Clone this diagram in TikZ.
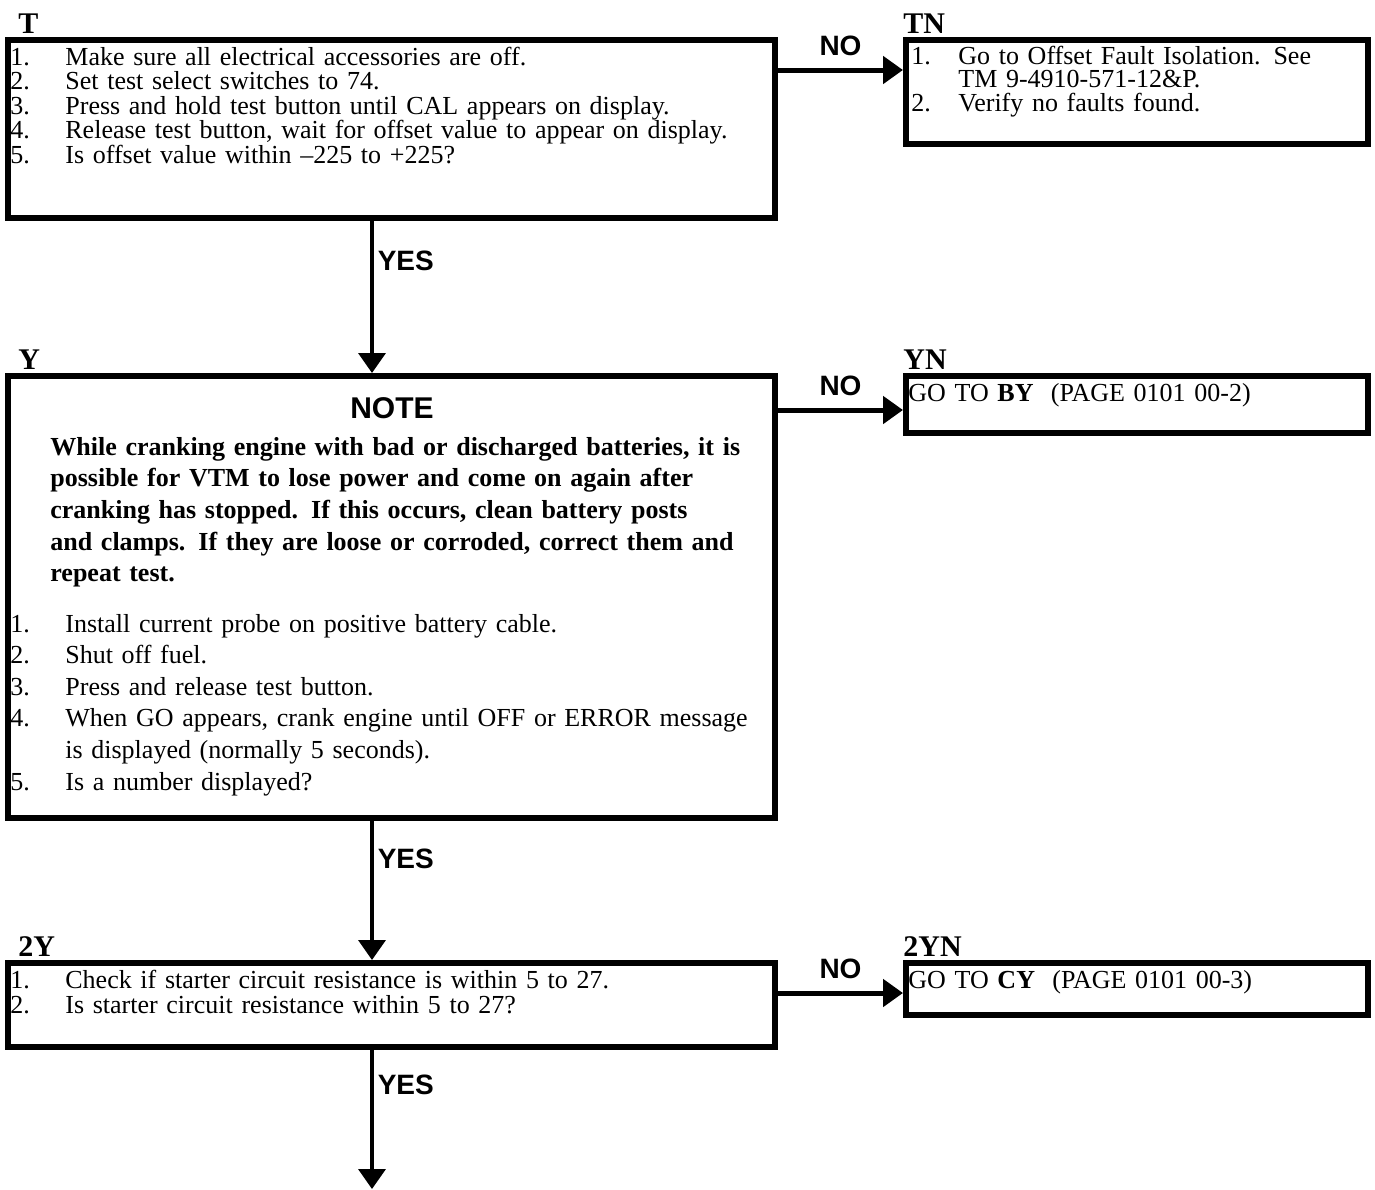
\documentclass[tikz,border=0pt]{standalone}
\usepackage{fontspec}
\setmainfont{Liberation Serif}
\setsansfont{Liberation Sans}
\usetikzlibrary{positioning,arrows.meta}

% numbered step with hanging indent
\newcommand{\stepline}[3][27.5pt]{\rightskip=0pt plus 1fil\parfillskip=0pt plus 1fil\relax
  \hangindent=#1\hangafter=1\noindent\makebox[#1][l]{#2}#3\par}

\tikzset{
  stepbox/.style={draw, line width=3pt, anchor=north west, inner sep=0pt},
  steptext/.style={anchor=base west, inner sep=0pt, text width=#1, align=left,
    font=\fontsize{13}{12.25}\selectfont},
  steptext/.default=380pt,
  boxtag/.style={anchor=base west, inner sep=0pt, font=\bfseries\fontsize{15}{15}\selectfont},
  answer/.style={inner sep=0pt, font=\sffamily\bfseries\fontsize{14}{14}\selectfont},
  noarrow/.style={line width=2.5pt, -{Triangle[length=10pt,width=13.5pt]}},
  yesarrow/.style={line width=1.8pt, -{Triangle[length=10pt,width=13.5pt]}},
}

\begin{document}
\begin{tikzpicture}[x=0.5pt, y=-0.5pt]
  \useasboundingbox[fill=white] (0,0) rectangle (1375,1189);

  % boxes
  \node[stepbox, minimum width=383.5pt, minimum height=89pt] (T) at (5,37) {};
  \node[stepbox, minimum width=231pt, minimum height=52pt] (TN) at (903,37) {};
  \node[stepbox, minimum width=383.5pt, minimum height=221pt] (Y) at (5,373) {};
  \node[stepbox, minimum width=231pt, minimum height=28.5pt] (YN) at (903,373) {};
  \node[stepbox, minimum width=383.5pt, minimum height=42pt] (2Y) at (5,960) {};
  \node[stepbox, minimum width=231pt, minimum height=26pt] (2YN) at (903,960) {};

  % box tags
  \node[boxtag] (tagT) at (18,33) {T};
  \node[boxtag] (tagTN) at (903,33) {TN};
  \node[boxtag] (tagY) at (18,369) {Y};
  \node[boxtag] (tagYN) at (903,369) {YN};
  \node[boxtag] (tag2Y) at (18,956) {2Y};
  \node[boxtag] (tag2YN) at (903,956) {2YN};

  % T
  \node[steptext] (Ttext) at (10,65) {%
    \stepline{1.}{Make sure all electrical accessories are off.}
    \stepline{2.}{Set test select switches to 74.}
    \stepline{3.}{Press and hold test button until CAL appears on display.}
    \stepline{4.}{Release test button, wait for offset value to appear on display.}
    \stepline{5.}{Is offset value within \textendash225 to +225?}};

  \node[steptext=225pt, font=\fontsize{13}{11.75}\selectfont] (TNtext) at (911,64) {%
    \stepline[23.5pt]{1.}{Go to Offset Fault Isolation. See\newline TM 9-4910-571-12\&P.}
    \stepline[23.5pt]{2.}{Verify no faults found.}};

  % Y
  \node[answer, anchor=base, font=\sffamily\bfseries\fontsize{15}{15}\selectfont] (note) at (392,418) {NOTE};
  \node[steptext, font=\bfseries\fontsize{13}{15.85}\selectfont] (notetext) at (50,455) {%
    While cranking engine with bad or discharged batteries, it is\\
    possible for VTM to lose power and come on again after\\
    cranking has stopped.  If this occurs, clean battery posts\\
    and clamps.  If they are loose or corroded, correct them and\\
    repeat test.};
  \node[steptext, font=\fontsize{13}{15.8}\selectfont] (Ytext) at (10,632) {%
    \stepline{1.}{Install current probe on positive battery cable.}
    \stepline{2.}{Shut off fuel.}
    \stepline{3.}{Press and release test button.}
    \stepline{4.}{When GO appears, crank engine until OFF or ERROR message\newline is displayed (normally 5 seconds).}
    \stepline{5.}{Is a number displayed?}};

  \node[steptext=225pt] (YNtext) at (908,401) {GO TO \textbf{BY}\ \ (PAGE 0101 00-2)};

  % 2Y
  \node[steptext, font=\fontsize{13}{12.5}\selectfont] (2Ytext) at (10,988) {%
    \stepline{1.}{Check if starter circuit resistance is within 5 to 27.}
    \stepline{2.}{Is starter circuit resistance within 5 to 27?}};

  \node[steptext=225pt] (2YNtext) at (908,988) {GO TO \textbf{CY}\ \ (PAGE 0101 00-3)};

  % NO branches
  \draw[noarrow] ([yshift=-16.5pt]T.north east) -- node[answer, midway, above=6pt] {NO} ([yshift=-16.5pt]TN.north west);
  \draw[noarrow] ([yshift=-18.5pt]Y.north east) -- node[answer, midway, above=6pt] {NO} ([yshift=-18.5pt]YN.north west);
  \draw[noarrow] ([yshift=-16.5pt]2Y.north east) -- node[answer, midway, above=6pt] {NO} ([yshift=-16.5pt]2YN.north west);

  % YES branches
  \coordinate (next) at (372,1189);
  \draw[yesarrow] ([xshift=183.5pt]T.south west) -- node[answer, pos=0.26, right=2pt] {YES} ([xshift=183.5pt]Y.north west);
  \draw[yesarrow] ([xshift=183.5pt]Y.south west) -- node[answer, pos=0.27, right=2pt] {YES} ([xshift=183.5pt]2Y.north west);
  \draw[yesarrow] ([xshift=183.5pt]2Y.south west) -- node[answer, pos=0.25, right=2pt] {YES} (next);
\end{tikzpicture}
\end{document}
